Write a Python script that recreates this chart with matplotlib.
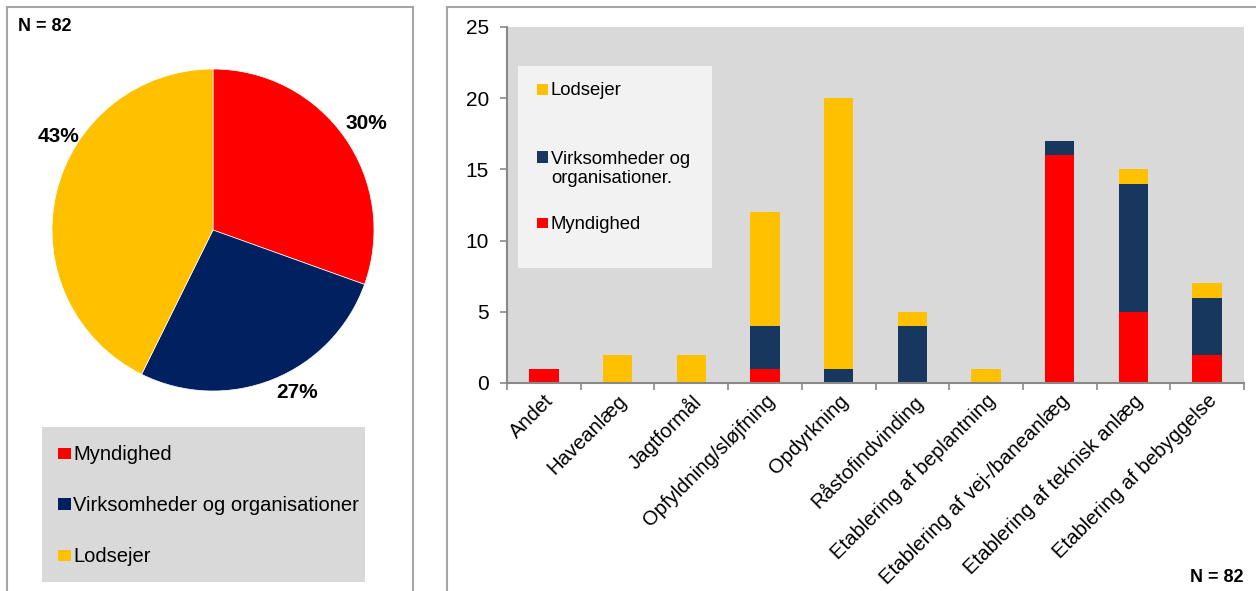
import matplotlib
matplotlib.use("Agg")
import matplotlib.pyplot as plt
from matplotlib.patches import Rectangle
import numpy as np

plt.rcParams['font.family'] = ['Liberation Sans', 'DejaVu Sans']

# ---- data ----
pie_labels = ["Myndighed", "Virksomheder og organisationer", "Lodsejer"]
pie_values = [25, 22, 35]
pie_colors = ["#FF0000", "#002060", "#FFC000"]

categories = ["Andet", "Haveanlæg", "Jagtformål", "Opfyldning/sløjfning", "Opdyrkning",
              "Råstofindvinding", "Etablering af beplantning", "Etablering af vej-/baneanlæg",
              "Etablering af teknisk anlæg", "Etablering af bebyggelse"]
myndighed = [1, 0, 0, 1, 0, 0, 0, 16, 5, 2]
virksomheder = [0, 0, 0, 3, 1, 4, 0, 1, 9, 4]
lodsejer = [0, 2, 2, 8, 19, 1, 1, 0, 1, 1]
bar_series = ["Myndighed", "Virksomheder og\norganisationer.", "Lodsejer"]
bar_colors = ["#FF0000", "#17375E", "#FFC000"]
n_text = "N = 82"

W, H = 1256, 591
fig = plt.figure(figsize=(W / 100, H / 100), dpi=100)


def fx(px):
    return px / W


def fy(py):
    return 1 - py / H


def frect(x0, y0, x1, y1, **kw):
    r = Rectangle((fx(x0), fy(y1)), fx(x1) - fx(x0), fy(y0) - fy(y1),
                  transform=fig.transFigure, **kw)
    fig.patches.append(r)
    return r


# panel frames
frect(7, 7, 413, 600, fill=False, edgecolor="#A6A6A6", lw=1.5)
frect(447, 7, 1270, 600, fill=False, edgecolor="#A6A6A6", lw=1.5)

# ---- pie ----
cx, cy, r = 213, 230, 161
axp = fig.add_axes([fx(cx - r), fy(cy + r), fx(2 * r), fy(cy - r) - fy(cy + r)])
wedges, _ = axp.pie(pie_values, colors=pie_colors, startangle=90, counterclock=False,
                    wedgeprops=dict(linewidth=0.5, edgecolor="white"))
axp.set_aspect('auto')
axp.set_xlim(-1, 1)
axp.set_ylim(-1, 1)
total = sum(pie_values)
label_pos = [(0.955, 0.66), (0.52, -1.01), (-0.96, 0.58)]
for v, (x, y) in zip(pie_values, label_pos):
    axp.text(x, y, f"{round(100 * v / total)}%", ha="center", va="center",
             fontsize=15, fontweight="bold", clip_on=False)

fig.text(fx(18), fy(31), n_text, fontsize=13, fontweight="bold", va="baseline", ha="left")

# pie legend (drawn as a box with swatches)
frect(42, 427, 365, 582, facecolor="#D9D9D9", edgecolor="none")
for i, (lab, col) in enumerate(zip(pie_labels, pie_colors)):
    base = 460 + 51 * i
    frect(58.5, base - 12.5, 70.5, base - 1.5, facecolor=col, edgecolor="none")
    fig.text(fx(73), fy(base), lab, fontsize=14.5, va="baseline", ha="left")

# ---- stacked bars ----
axb = fig.add_axes([fx(507), fy(383), fx(1244) - fx(507), fy(27) - fy(383)])
axb.set_facecolor("#D9D9D9")
x = np.arange(len(categories))
m = np.array(myndighed)
v = np.array(virksomheder)
l = np.array(lodsejer)
bw = 0.4
axb.bar(x, m, bw, color=bar_colors[0], label=bar_series[0])
axb.bar(x, v, bw, bottom=m, color=bar_colors[1], label=bar_series[1])
axb.bar(x, l, bw, bottom=m + v, color=bar_colors[2], label=bar_series[2])
axb.set_xlim(-0.5, len(categories) - 0.5)
axb.set_ylim(0, 25)
axb.set_yticks([0, 5, 10, 15, 20, 25])
axb.tick_params(axis="y", labelsize=15, length=5, width=1.2, color="#898989", pad=8)
axb.set_xticks(x)
axb.set_xticklabels(categories, rotation=45, ha="right", rotation_mode="anchor", fontsize=14.6)
axb.tick_params(axis="x", length=0, pad=6)
axb.set_xticks(np.arange(len(categories) + 1) - 0.5, minor=True)
axb.tick_params(axis="x", which="minor", length=5, width=1.2, color="#898989")
for s in ["top", "right"]:
    axb.spines[s].set_visible(False)
for s in ["left", "bottom"]:
    axb.spines[s].set_color("#898989")
    axb.spines[s].set_linewidth(1.5)

# bar legend (drawn as a box with swatches)
frect(518, 66, 712, 268, facecolor="#F2F2F2", edgecolor="none")
# (label, colour, swatch baseline, text baseline of last line)
leg_items = [(bar_series[2], bar_colors[2], 95, 95),
             (bar_series[1], bar_colors[1], 163, 183),
             (bar_series[0], bar_colors[0], 229, 229)]
for lab, col, sbase, tbase in leg_items:
    frect(536.5, sbase - 11.5, 547.5, sbase - 0.5, facecolor=col, edgecolor="none")
    fig.text(fx(551), fy(tbase), lab, fontsize=13.3, va="baseline", ha="left",
             linespacing=1.15)

fig.text(fx(1243), fy(582), n_text, fontsize=13, fontweight="bold", va="baseline", ha="right")

fig.savefig("out.png", dpi=100, facecolor="white")
